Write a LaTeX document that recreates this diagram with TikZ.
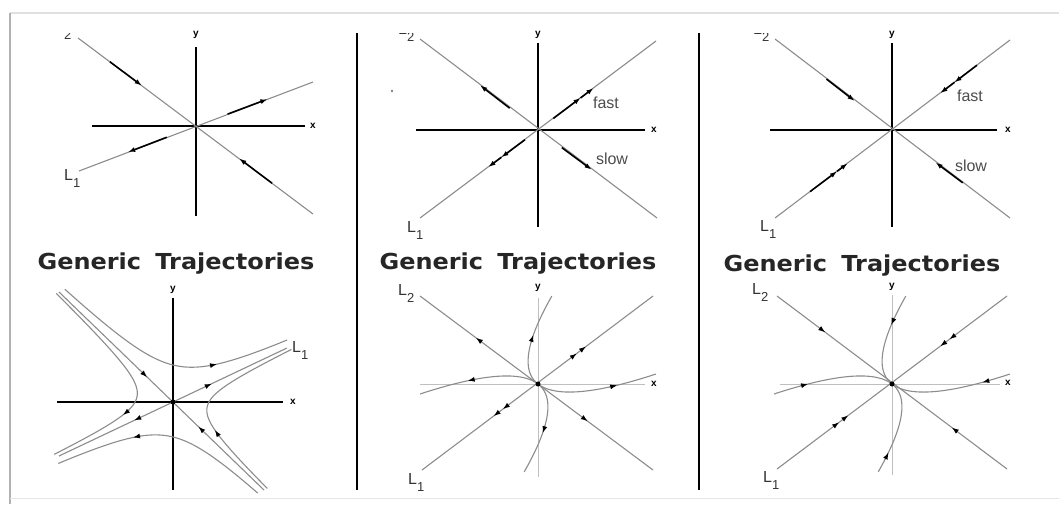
\documentclass[tikz,border=0pt]{standalone}
\usepackage{fontspec}
\setmainfont{Liberation Sans}
\newfontfamily\titlefont{DejaVu Sans}
\usetikzlibrary{arrows.meta,calc,decorations.markings}

% line label with a dropped index
\newcommand{\Lab}[1]{L\raisebox{-7pt}{\fontsize{13}{13}\selectfont #1}}

\begin{document}
\begin{tikzpicture}[x=1pt, y=-1pt,
  gline/.style={draw=black!45, line width=1.1pt},
  axis/.style={draw=black, line width=1.1pt},
  faint/.style={draw=black!25, line width=0.6pt},
  flow/.style={black, line width=1.6pt, -{Latex[length=7pt,width=5pt]}},
  tipst/.style={draw=black!45, line width=1.1pt, -{Latex[length=7pt,width=5pt,color=black]}},
  fwd/.style={postaction={decorate, decoration={markings,
      mark=at position #1 with {\arrow{Latex[length=7pt,width=5pt,color=black]}}}}},
  bwd/.style={postaction={decorate, decoration={markings,
      mark=at position #1 with {\arrowreversed{Latex[length=7pt,width=5pt,color=black]}}}}},
  lab/.style={font=\fontsize{16}{16}\selectfont, text=black!80, inner sep=0pt, anchor=base west},
  axlab/.style={font=\fontsize{10}{10}\selectfont\bfseries, inner sep=0pt},
  note/.style={font=\fontsize{16}{16}\selectfont, text=black!70, inner sep=0pt},
  ttl/.style={font=\titlefont\bfseries\fontsize{22}{22}\selectfont, xscale=1.09, text=black!85,
              inner sep=0pt, anchor=base},
  origin/.style={circle, fill=black, inner sep=0pt, minimum size=5pt}]

  \useasboundingbox (0,0) rectangle (1059,504);

  % slide frame and dividers
  \draw[black!12, line width=1.5pt] (10,13) -- (1059,13);
  \draw[black!30, line width=2pt] (10,13) -- (10,504);
  \draw[black!10, line width=1pt] (10,498) -- (1059,498);
  \draw[black, line width=1.3pt] (357,33) -- (357,490);
  \draw[black, line width=1.3pt] (699,33) -- (699,490);

  % ---- top left: saddle
  \coordinate (o1) at (196,126);
  \coordinate (a1) at (78,38);
  \coordinate (b1) at (313,214);
  \coordinate (c1) at (313,82);
  \coordinate (d1) at (79,171);
  \draw[axis] (196,47) -- (196,216);
  \draw[axis] (92,126) -- (305,126);
  \draw[gline] (a1) -- (b1);
  \draw[gline] (d1) -- (c1);
  \draw[flow] ($(o1)!0.73!(a1)$) -- ($(o1)!0.46!(a1)$);
  \draw[flow] ($(o1)!0.65!(b1)$) -- ($(o1)!0.37!(b1)$);
  \draw[flow] ($(o1)!0.27!(c1)$) -- ($(o1)!0.61!(c1)$);
  \draw[flow] ($(o1)!0.25!(d1)$) -- ($(o1)!0.58!(d1)$);
  \node[axlab] (y1) at (196,35) {y};
  \node[axlab] (x1) at (313,126) {x};
  \node[lab] (l1b) at (64,180) {\Lab{1}};

  % ---- top middle: unstable node
  \coordinate (o2) at (538,130);
  \coordinate (a2) at (420,39);
  \coordinate (b2) at (657,218);
  \coordinate (c2) at (656,41);
  \coordinate (d2) at (420,218);
  \draw[axis] (538,43) -- (538,227);
  \draw[axis] (416,130) -- (645,130);
  \draw[gline] (a2) -- (b2);
  \draw[gline] (d2) -- (c2);
  \draw[flow] ($(o2)!0.24!(a2)$) -- ($(o2)!0.49!(a2)$);
  \draw[flow] ($(o2)!0.20!(b2)$) -- ($(o2)!0.45!(b2)$);
  \draw[flow] ($(o2)!0.13!(c2)$) -- ($(o2)!0.36!(c2)$);
  \draw[flow] ($(o2)!0.36!(c2)$) -- ($(o2)!0.47!(c2)$);
  \draw[flow] ($(o2)!0.11!(d2)$) -- ($(o2)!0.31!(d2)$);
  \draw[flow] ($(o2)!0.31!(d2)$) -- ($(o2)!0.42!(d2)$);
  \fill[black!50] (392,91) circle (1.3pt);
  \node[axlab] (y2) at (538,35) {y};
  \node[axlab] (x2) at (654,130) {x};
  \node[note] (fast2) at (606,103) {fast};
  \node[note] (slow2) at (612,159) {slow};
  \node[lab] (l2b) at (407,232) {\Lab{1}};

  % ---- top right: stable node
  \coordinate (o3) at (892,130);
  \coordinate (a3) at (775,39);
  \coordinate (b3) at (1010,218);
  \coordinate (c3) at (1010,40);
  \coordinate (d3) at (775,218);
  \draw[axis] (892,43) -- (892,227);
  \draw[axis] (770,130) -- (997,130);
  \draw[gline] (a3) -- (b3);
  \draw[gline] (d3) -- (c3);
  \draw[flow] ($(o3)!0.56!(a3)$) -- ($(o3)!0.32!(a3)$);
  \draw[flow] ($(o3)!0.60!(b3)$) -- ($(o3)!0.37!(b3)$);
  \draw[flow] ($(o3)!0.72!(c3)$) -- ($(o3)!0.53!(c3)$);
  \draw[flow] ($(o3)!0.53!(c3)$) -- ($(o3)!0.41!(c3)$);
  \draw[flow] ($(o3)!0.70!(d3)$) -- ($(o3)!0.47!(d3)$);
  \draw[flow] ($(o3)!0.47!(d3)$) -- ($(o3)!0.38!(d3)$);
  \node[axlab] (y3) at (892,35) {y};
  \node[axlab] (x3) at (1008,130) {x};
  \node[note] (fast3) at (970,96) {fast};
  \node[note] (slow3) at (971,166) {slow};
  \node[lab] (l3b) at (760,231) {\Lab{1}};

  % upper labels cut by the slide edge
  \begin{scope}
    \clip (0,33) rectangle (1059,504);
    \node[lab] (l1a) at (55,32) {\Lab{2}};
    \node[lab] (l2a) at (398,34.5) {\Lab{2}};
    \node[lab] (l3a) at (753,34.5) {\Lab{2}};
  \end{scope}

  % titles
  \node[ttl] (t1) at (176,269) {Generic\hspace{0.25em} Trajectories};
  \node[ttl] (t2) at (518,269) {Generic\hspace{0.25em} Trajectories};
  \node[ttl] (t3) at (862,271) {Generic\hspace{0.25em} Trajectories};

  % ---- bottom left: saddle trajectories
  \begin{scope}[shift={(173,402)}]
    \draw[axis] (0,-104) -- (0,88);
    \draw[axis] (-116,0) -- (110,0);
    \draw[gline, bwd=0.33, fwd=0.67] (-114,54) -- (114,-54);
    \draw[gline, fwd=0.43, bwd=0.68] (-114,-110) -- (91,88);
    \draw[gline] plot[domain=0.0509:1.05, samples=200, smooth]
      ({114*\x-5.80/\x}, {-54*\x-5.60/\x});
    \draw[gline] plot[domain=0.0275:1.02, samples=200, smooth]
      ({114*\x+2.508/\x}, {-54*\x+2.42/\x});
    \draw[gline] plot[domain=0.0245:1.02, samples=200, smooth]
      ({-114*\x-2.793/\x}, {54*\x-2.695/\x});
    \draw[gline] plot[domain=0.0569:1.05, samples=200, smooth]
      ({-114*\x+5.187/\x}, {54*\x+5.005/\x});
    \draw[tipst] (36.2,-36.2) -- (44,-37.9);
    \draw[tipst] (46.3,34.6) -- (41.8,28);
    \draw[tipst] (-43.8,8.1) -- (-50.1,13);
    \draw[tipst] (-32.2,33.8) -- (-40,35.5);
    \node[origin] (s4) at (0,0) {};
  \end{scope}
  \node[axlab] (y4) at (173,290) {y};
  \node[axlab] (x4) at (293,402) {x};
  \node[lab] (l4b) at (292,352) {\Lab{1}};

  % ---- bottom middle: unstable node trajectories
  \begin{scope}[shift={(538,384)}]
    \draw[faint] (0,-86) -- (0,93);
    \draw[faint] (-118,0) -- (107,0);
    \draw[gline, bwd=0.24, fwd=0.72] (-118,-88) -- (115,86);
    \draw[gline, bwd=0.31, bwd=0.35, fwd=0.67, fwd=0.71] (-116,86) -- (115,-88);
    \draw[gline] plot[domain=0:1, samples=40, smooth]
      ({-50.5*\x+64.3*\x*\x}, {-38.7*\x-49.2*\x*\x});
    \draw[gline] plot[domain=0:1, samples=40, smooth]
      ({50.5*\x-64.3*\x*\x}, {38.7*\x+49.2*\x*\x});
    \draw[gline] plot[domain=0:1, samples=40, smooth]
      ({-52.5*\x-65.5*\x*\x}, {-40.2*\x+50.2*\x*\x});
    \draw[gline] plot[domain=0:1, samples=40, smooth]
      ({52.5*\x+65.5*\x*\x}, {40.2*\x-50.2*\x*\x});
    \draw[tipst] (-7.2,-41.5) -- (-4.6,-49.1);
    \draw[tipst] (7.2,41.5) -- (4.6,49.1);
    \draw[tipst] (-62.5,-4.9) -- (-70.3,-3.2);
    \draw[tipst] (71.4,3.1) -- (79.2,1.2);
    \node[origin] (s5) at (0,0) {};
  \end{scope}
  \node[axlab] (y5) at (538,288) {y};
  \node[axlab] (x5) at (654,384) {x};
  \node[lab] (l5a) at (398,295) {\Lab{2}};
  \node[lab] (l5b) at (408,484) {\Lab{1}};

  % ---- bottom right: stable node trajectories
  \begin{scope}[shift={(892,384)}]
    \draw[faint] (0,-89) -- (0,91);
    \draw[faint] (-112,0) -- (108,0);
    \draw[gline, fwd=0.21, bwd=0.76] (-115,-88) -- (115,85);
    \draw[gline, fwd=0.27, fwd=0.31, bwd=0.71, bwd=0.75] (-115,85) -- (115,-88);
    \draw[gline] plot[domain=0:1, samples=40, smooth]
      ({-50.5*\x+64.3*\x*\x}, {-38.7*\x-49.2*\x*\x});
    \draw[gline] plot[domain=0:1, samples=40, smooth]
      ({50.5*\x-64.3*\x*\x}, {38.7*\x+49.2*\x*\x});
    \draw[gline] plot[domain=0:1, samples=40, smooth]
      ({-52.5*\x-65.5*\x*\x}, {-40.2*\x+50.2*\x*\x});
    \draw[gline] plot[domain=0:1, samples=40, smooth]
      ({52.5*\x+65.5*\x*\x}, {40.2*\x-50.2*\x*\x});
    \draw[tipst] (2.3,-66.4) -- (-0.8,-59);
    \draw[tipst] (-7,75.6) -- (-3.5,68.4);
    \draw[tipst] (-91.7,1.9) -- (-83.9,-0.1);
    \draw[tipst] (98,-3.7) -- (90.3,-1.6);
    \node[origin] (s6) at (0,0) {};
  \end{scope}
  \node[axlab] (y6) at (892,287) {y};
  \node[axlab] (x6) at (1008,383) {x};
  \node[lab] (l6a) at (752,294) {\Lab{2}};
  \node[lab] (l6b) at (763,482) {\Lab{1}};

\end{tikzpicture}
\end{document}
